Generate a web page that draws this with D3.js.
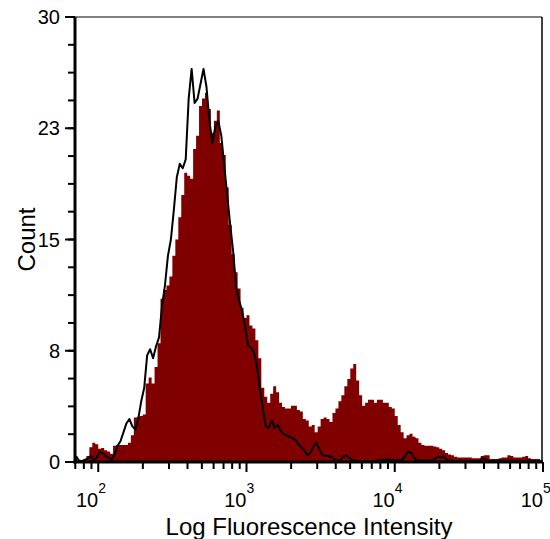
<!DOCTYPE html>
<html>
<head>
<meta charset="utf-8">
<script src="https://cdn.jsdelivr.net/npm/d3@7"></script>
<style>
  body { margin: 0; background: #fff; }
  svg text { font-family: Arial, "Liberation Sans", sans-serif; fill: #000; }
</style>
</head>
<body>
<svg id="chart" width="550" height="539"></svg>
<script>
// channels: 50 log bins per decade starting at 10^1.84
const logStart = 1.84;
const binsPerDecade = 50;

// stained sample (filled histogram)
const stainedCounts = [
  0.3, 0.1, 0.1, 0.2, 0.4, 1.0, 1.3, 1.2, 0.9, 0.95,
  0.8, 0.7, 0.55, 1.1, 1.15, 1.15, 1.15, 1.15, 1.3, 1.8,
  3.0, 3.05, 3.1, 3.2, 5.3, 5.7, 5.3, 6.4, 8.0, 11.0,
  11.6, 11.9, 12.5, 13.9, 15.0, 16.5, 18.0, 19.5, 19.3, 19.1,
  21.1, 22.0, 24.0, 24.5, 24.9, 23.8, 22.2, 23.0, 23.7, 21.5,
  20.7, 18.5, 16.0, 14.0, 12.8, 11.7, 10.4, 9.7, 9.9, 9.2,
  9.0, 8.2, 7.0, 5.0, 4.4, 4.0, 4.6, 5.1, 4.7, 4.0,
  3.7, 3.6, 3.6, 3.8, 3.8, 3.5, 3.4, 2.9, 2.8, 2.4,
  2.5, 2.0, 2.4, 2.9, 3.0, 2.9, 2.7, 3.3, 3.6, 4.1,
  4.5, 5.1, 5.6, 6.3, 6.6, 5.5, 4.5, 3.8, 4.0, 4.2,
  4.2, 4.0, 4.2, 4.2, 4.0, 4.0, 3.7, 3.6, 3.1, 2.5,
  2.0, 1.6, 1.8, 1.9, 1.7, 1.6, 1.3, 1.15, 1.1, 1.1,
  1.1, 1.05, 1.0, 0.9, 0.8, 0.6, 0.5, 0.45, 0.35, 0.3,
  0.3, 0.3, 0.3, 0.3, 0.25, 0.25, 0.25, 0.4, 0.45, 0.45,
  0.2, 0.2, 0.2, 0.25, 0.3, 0.3, 0.45, 0.4, 0.3, 0.3,
  0.3, 0.35, 0.4, 0.25, 0.2, 0.2, 0.2, 0.1
];

// isotype control (black outline)
const controlCounts = [
  0.4, 0.1, 0.05, 0.15, 0.25, 0.4, 0.15, 0.3, 0.7, 0.6,
  0.4, 0.3, 0.15, 0.5, 1.1, 1.4, 2.0, 2.6, 2.9, 2.4,
  2.2, 2.9, 4.1, 5.0, 7.2, 7.6, 7.0, 7.8, 8.4, 10.5,
  11.9, 13.9, 15.0, 17.0, 19.2, 20.1, 19.8, 20.4, 24.5, 26.5,
  24.2, 24.5, 25.5, 26.5, 25.3, 23.0, 21.5, 22.6, 23.0, 22.0,
  20.0, 18.0, 16.0, 14.2, 11.8, 10.9, 10.2, 9.2, 7.9, 7.7,
  7.4, 6.5, 5.0, 3.6, 2.4, 2.3, 2.8, 2.3, 2.5, 2.1,
  1.9, 1.8, 1.7, 1.6, 1.5, 1.2, 1.0, 0.8, 0.45, 0.6,
  1.0, 1.3, 0.9, 0.5, 0.4, 0.4, 0.35, 0.2, 0.1, 0.1,
  0.35, 0.45, 0.3, 0.15, 0.1, 0.05, 0.05, 0.05, 0.05, 0.05,
  0.05, 0.05, 0.1, 0.15, 0.15, 0.15, 0.15, 0.15, 0.1, 0.1,
  0.15, 0.4, 0.7, 0.6, 0.3, 0.1, 0.1, 0.1, 0.1, 0.1,
  0.1, 0.2, 0.35, 0.3, 0.35, 0.15, 0.1, 0.05, 0.05, 0.05,
  0.05, 0.05, 0.05, 0.05, 0.05, 0.05, 0.05, 0.3, 0.2, 0.05,
  0.05, 0.05, 0.1, 0.1, 0.05, 0.05, 0.1, 0.1, 0.05, 0.05,
  0.05, 0.05, 0.1, 0.1, 0.05, 0.05, 0.05, 0.05
];

const yTickValues = [0, 7.5, 15, 22.5, 30];
const xMajorTicks = [100, 1000, 10000, 100000];
const xTitle = "Log Fluorescence Intensity";
const yTitle = "Count";

const plotLeft = 75, plotRight = 543, plotTop = 17, plotBottom = 462;
const svg = d3.select("#chart");

const x = d3.scaleLog().domain([69.7, 100000]).range([plotLeft, plotRight]);
const y = d3.scaleLinear().domain([0, 30]).range([plotBottom, plotTop]);

const bins = stainedCounts.map((v, i) => ({
  lo: Math.pow(10, logStart + i / binsPerDecade),
  hi: Math.pow(10, logStart + (i + 1) / binsPerDecade),
  mid: Math.pow(10, logStart + (i + 0.5) / binsPerDecade),
  stained: v,
  control: controlCounts[i]
}));

svg.append("defs").append("clipPath").attr("id", "plotClip")
  .append("rect").attr("x", plotLeft).attr("y", plotTop)
  .attr("width", plotRight - plotLeft).attr("height", plotBottom - plotTop);

const plot = svg.append("g").attr("clip-path", "url(#plotClip)");

// filled step histogram
const steps = bins.flatMap(d => [{v: d.lo, c: d.stained}, {v: d.hi, c: d.stained}]);
const area = d3.area()
  .x(d => x(d.v))
  .y0(plotBottom)
  .y1(d => y(d.c));

plot.append("path")
  .attr("d", area(steps))
  .attr("fill", "#800000");

const line = d3.line()
  .x(d => x(d.mid))
  .y(d => y(d.control));

plot.append("path")
  .attr("d", line(bins))
  .attr("fill", "none")
  .attr("stroke", "#000")
  .attr("stroke-width", 2)
  .attr("stroke-linejoin", "round");

// frame: thin top/right, thick left/bottom
svg.append("line").attr("x1", plotLeft).attr("x2", plotRight - 1).attr("y1", plotTop).attr("y2", plotTop)
  .attr("stroke", "#000").attr("stroke-width", 1);
svg.append("line").attr("x1", plotRight - 1).attr("x2", plotRight - 1).attr("y1", plotTop).attr("y2", plotBottom)
  .attr("stroke", "#000").attr("stroke-width", 1.5);

// y axis
const yMinor = d3.range(0, 30.01, 1.875);
const yAxis = svg.append("g");
yAxis.selectAll("line.minor").data(yMinor).enter().append("line")
  .attr("x1", plotLeft - 7).attr("x2", plotLeft).attr("y1", d => y(d)).attr("y2", d => y(d))
  .attr("stroke", "#000").attr("stroke-width", 2);
yAxis.selectAll("line.major").data(yTickValues).enter().append("line")
  .attr("x1", plotLeft - 10).attr("x2", plotLeft).attr("y1", d => y(d)).attr("y2", d => y(d))
  .attr("stroke", "#000").attr("stroke-width", 2);
yAxis.selectAll("text").data(yTickValues).enter().append("text")
  .attr("x", plotLeft - 15).attr("y", d => y(d)).attr("dy", "0.36em")
  .attr("text-anchor", "end").attr("font-size", 20)
  .text(d => Math.round(d));
yAxis.append("line").attr("x1", plotLeft).attr("x2", plotLeft).attr("y1", plotTop).attr("y2", plotBottom + 1.5)
  .attr("stroke", "#000").attr("stroke-width", 3);

// x axis
const xMinor = [];
[10, 100, 1000, 10000].forEach(dec => {
  for (let k = 2; k <= 9; k++) if (dec * k >= 69.7) xMinor.push(dec * k);
});
const xAxis = svg.append("g");
xAxis.selectAll("line.minor").data(xMinor).enter().append("line")
  .attr("x1", d => x(d)).attr("x2", d => x(d)).attr("y1", plotBottom).attr("y2", plotBottom + 7)
  .attr("stroke", "#000").attr("stroke-width", 2);
xAxis.selectAll("line.major").data(xMajorTicks).enter().append("line")
  .attr("x1", d => x(d)).attr("x2", d => x(d)).attr("y1", plotBottom).attr("y2", plotBottom + 10)
  .attr("stroke", "#000").attr("stroke-width", 2);
xAxis.append("line").attr("x1", plotLeft - 1.5).attr("x2", plotRight).attr("y1", plotBottom).attr("y2", plotBottom)
  .attr("stroke", "#000").attr("stroke-width", 3);

const xLab = xAxis.selectAll("g.lab").data(xMajorTicks).enter().append("g");
xLab.append("text")
  .attr("x", d => x(d)).attr("y", 507)
  .attr("text-anchor", "end").attr("font-size", 20)
  .text("10");
xLab.append("text")
  .attr("x", d => x(d)).attr("y", 493)
  .attr("text-anchor", "start").attr("font-size", 14)
  .text(d => Math.round(Math.log10(d)));

// titles
svg.append("text")
  .attr("x", (plotLeft + plotRight) / 2).attr("y", 535)
  .attr("text-anchor", "middle").attr("font-size", 24)
  .text(xTitle);
svg.append("text")
  .attr("transform", "translate(35," + (plotTop + plotBottom) / 2 + ") rotate(-90)")
  .attr("text-anchor", "middle").attr("font-size", 24)
  .text(yTitle);
</script>
</body>
</html>
